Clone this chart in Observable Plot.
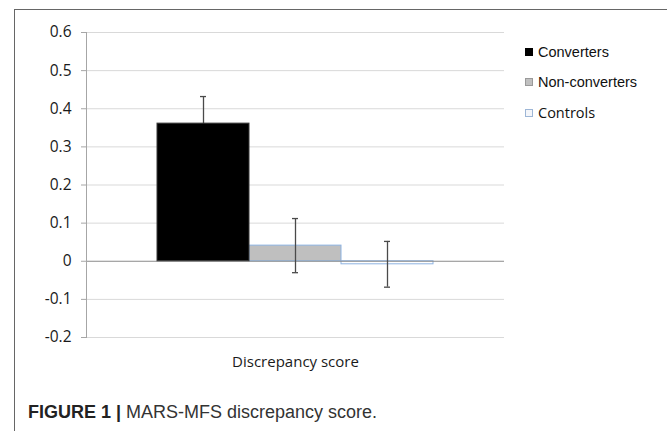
<!DOCTYPE html>
<html>
<head>
<meta charset="utf-8">
<script src="https://cdn.jsdelivr.net/npm/d3@7"></script>
<script src="https://cdn.jsdelivr.net/npm/@observablehq/plot@0.6"></script>
<style>
  html, body { margin: 0; padding: 0; background: #fff; width: 667px; height: 431px; overflow: hidden; }
  #frame { position: absolute; left: 14px; top: 9px; right: 0; bottom: -2px; border-top: 1px solid #666; border-left: 1.5px solid #666; }
  #chart { position: absolute; left: 0; top: 0; }
  #legend { position: absolute; left: 525px; top: 44px; font-family: "Liberation Sans", Arial, sans-serif; font-size: 14.5px; color: #111; }
  .item { position: absolute; left: 0; white-space: nowrap; height: 16px; line-height: 16px; }
  .sw { position: absolute; left: 0; top: 4px; width: 8px; height: 8px; box-sizing: border-box; }
  .lab { position: absolute; left: 13px; top: 0; }
  #caption { position: absolute; left: 28px; top: 402px; font-family: "Liberation Sans", Arial, sans-serif; font-size: 18px; color: #333; white-space: nowrap; }
  #caption b { color: #222; }
</style>
</head>
<body>
<div id="frame"></div>
<div id="chart"></div>
<div id="legend"></div>
<div id="caption"><b>FIGURE 1 |</b> MARS-MFS discrepancy score.</div>
<script>
// ---- data ----
const category = "Discrepancy score";
const groups = ["Converters", "Non-converters", "Controls"];
const means = [0.361, 0.041, -0.008];
const errors = [0.071, 0.071, 0.060];
const fills = ["#000000", "#bfbfbf", "#ffffff"];
const strokes = ["#3a3a3a", "#8db3e2", "#8db3e2"];
const yTicks = [-0.2, -0.1, 0, 0.1, 0.2, 0.3, 0.4, 0.5, 0.6];

const rows = groups.map((g, i) => ({
  cat: category, group: g, mean: means[i], lo: means[i] - errors[i], hi: means[i] + errors[i], stroke: strokes[i]
}));
const darkRows = rows.filter(d => d.group === "Converters");
const lightRows = rows.filter(d => d.group !== "Converters");

const fmt = d => d === 0 ? "0" : d.toFixed(1);
const errStyle = { fx: "cat", x: "group", stroke: "#4a4a4a", strokeWidth: 1.3 };

const chart = Plot.plot({
  width: 667,
  height: 380,
  marginLeft: 86,
  marginRight: 163,
  marginTop: 32,
  marginBottom: 43,
  style: { fontFamily: "'Open Sans', sans-serif", fontSize: "15px", color: "#1a1a1a", background: "transparent" },
  fx: { domain: [category], padding: 0, label: null },
  x: { domain: groups, paddingInner: 0, paddingOuter: 0.757, axis: null },
  y: { domain: [-0.2, 0.6], label: null },
  color: { domain: groups, range: fills },
  marks: [
    Plot.ruleY(yTicks.filter(d => d !== 0), { stroke: "#d9d9d9", strokeWidth: 1 }),
    Plot.barY(lightRows, { fx: "cat", x: "group", y: "mean", fill: "group", stroke: "stroke", strokeWidth: 1 }),
    Plot.ruleY([0], { stroke: "#8a8a8a", strokeWidth: 1 }),
    Plot.ruleX(rows, { ...errStyle, y1: "lo", y2: "hi" }),
    Plot.tickY(rows, { ...errStyle, y: "hi", insetLeft: 43, insetRight: 43 }),
    Plot.tickY(rows, { ...errStyle, y: "lo", insetLeft: 43, insetRight: 43 }),
    Plot.barY(darkRows, { fx: "cat", x: "group", y: "mean", fill: "group", stroke: "stroke", strokeWidth: 1 }),
    Plot.frame({ anchor: "left", stroke: "#a6a6a6" }),
    Plot.axisY({ ticks: yTicks, tickFormat: fmt, tickSize: 5, tickPadding: 10, stroke: "#a6a6a6", fontSize: 15.5, fill: "#1a1a1a" }),
    Plot.axisFx({ anchor: "bottom", tickSize: 0, tickPadding: 19, label: null, fontSize: 15, fill: "#1a1a1a" })
  ]
});
document.getElementById("chart").appendChild(chart);

// ---- legend ----
const legend = document.getElementById("legend");
const legendFills = ["#000000", "#c0c0c0", "#f4f6fa"];
const legendStrokes = ["#000000", "#9a9a9a", "#9db6d6"];
const legendFonts = ["'Liberation Sans', Arial, sans-serif", "'Liberation Sans', Arial, sans-serif", "'Open Sans', sans-serif"];
groups.forEach((g, i) => {
  const it = document.createElement("div");
  it.className = "item";
  it.style.top = (i * 30.3) + "px";
  const sw = document.createElement("div");
  sw.className = "sw";
  sw.style.background = legendFills[i];
  sw.style.border = "1px solid " + legendStrokes[i];
  const lab = document.createElement("div");
  lab.className = "lab";
  lab.textContent = g;
  lab.style.fontFamily = legendFonts[i];
  it.appendChild(sw); it.appendChild(lab);
  legend.appendChild(it);
});
</script>
</body>
</html>
